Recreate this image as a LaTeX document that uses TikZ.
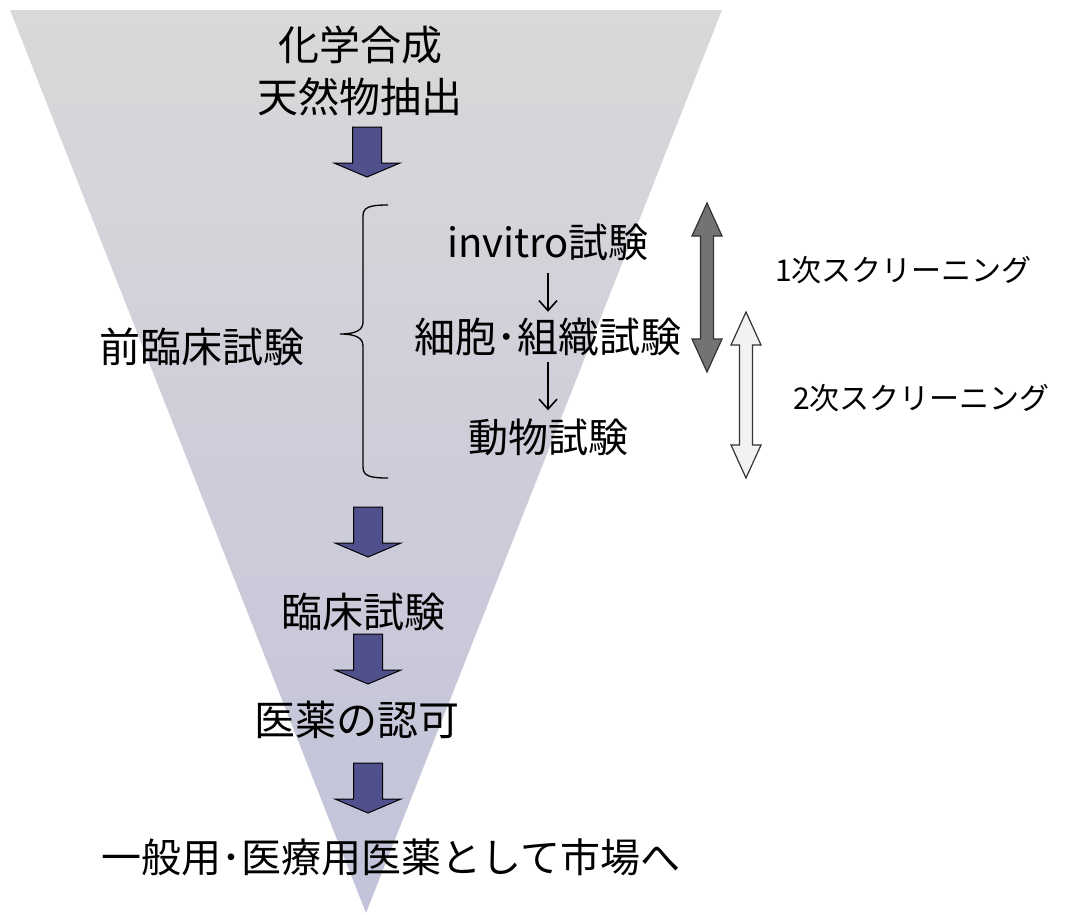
\documentclass[tikz,border=0pt]{standalone}
\usepackage{fontspec}
\setmainfont{Noto Sans CJK JP}
\usetikzlibrary{arrows.meta}
\definecolor{funneltop}{RGB}{217,217,218}
\definecolor{funnelbot}{RGB}{194,194,218}
\definecolor{blockblue}{RGB}{80,80,140}
\definecolor{darkgray}{RGB}{115,115,115}
\definecolor{lightgray}{RGB}{242,242,242}
\tikzset{
  lbl/.style={inner sep=0pt, font=\fontsize{41}{46}\selectfont},
  sublbl/.style={inner sep=0pt, font=\fontsize{40}{46}\selectfont},
  scrlbl/.style={inner sep=0pt, anchor=west, font=\fontsize{30}{34}\selectfont},
  blockarrow/.style={draw=black, line width=1pt, fill=blockblue, line join=miter},
  dblarrow/.style={draw=black!80, line width=1.2pt, line join=miter},
  thinarrow/.style={line width=1.6pt, -{Straight Barb[length=10pt,width=18pt]}},
  pics/downarrow/.style={code={
    \path[blockarrow] (-14.5,0)--(14.5,0)--(14.5,36)--(33,36)--(0,50)--(-33,36)--(-14.5,36)--cycle;}}
}
\begin{document}
\begin{tikzpicture}[x=1pt,y=-1pt]
\useasboundingbox (0,0) rectangle (1066,914);
% funnel
\shade[top color=funneltop, bottom color=funnelbot] (10,10) -- (722,10) -- (366,913) -- cycle;
% texts
\node[lbl] (syn) at (360,45) {化学合成};
\node[lbl] (nat) at (360,97) {天然物抽出};
\node[lbl] (pre) at (202,347) {前臨床試験};
\node[sublbl] (iv) at (548,242) {invitro試験};
\node[inner sep=0pt, font=\fontsize{41}{46}\selectfont] (cell) at (548,337) {細胞･組織試験};
\node[sublbl] (ani) at (548,437) {動物試験};
\node[lbl] (cli) at (363,612) {臨床試験};
\node[lbl] (app) at (357,720) {医薬の認可};
\node[inner sep=0pt, font=\fontsize{40}{46}\selectfont] (mkt) at (391,857) {一般用･医療用医薬として市場へ};
\node[scrlbl] (s1) at (775,270) {1次スクリーニング};
\node[scrlbl] (s2) at (793,398) {2次スクリーニング};
% block arrows
\pic at (367,127) {downarrow};
\pic at (368,507) {downarrow};
\pic at (368,634) {downarrow};
\pic at (368,763) {downarrow};
% brace
\coordinate (bt) at (388,205);
\coordinate (bb) at (388,478);
\coordinate (btip) at (340,334);
\draw[line width=1.3pt] (bt) .. controls (370,205) and (363,207) .. (363,216)
  -- (363,322) .. controls (363,330) and (356,334) .. (btip)
  .. controls (356,334) and (363,338) .. (363,346)
  -- (363,467) .. controls (363,476) and (370,478) .. (bb);
% small arrows
\draw[thinarrow] ([yshift=-12pt]iv.south) -- ([yshift=6pt]cell.north);
\draw[thinarrow] ([yshift=-6pt]cell.south) -- ([yshift=8pt]ani.north);
% screening double arrows
\path[dblarrow, fill=darkgray] (707,203)--(722,236)--(713.5,236)--(713.5,339)--(722,339)--(707,372)--(692,339)--(700.5,339)--(700.5,236)--(692,236)--cycle;
\path[dblarrow, fill=lightgray] (746,312)--(761,345)--(752.5,345)--(752.5,445)--(761,445)--(746,478)--(731,445)--(739.5,445)--(739.5,345)--(731,345)--cycle;
\end{tikzpicture}
\end{document}
